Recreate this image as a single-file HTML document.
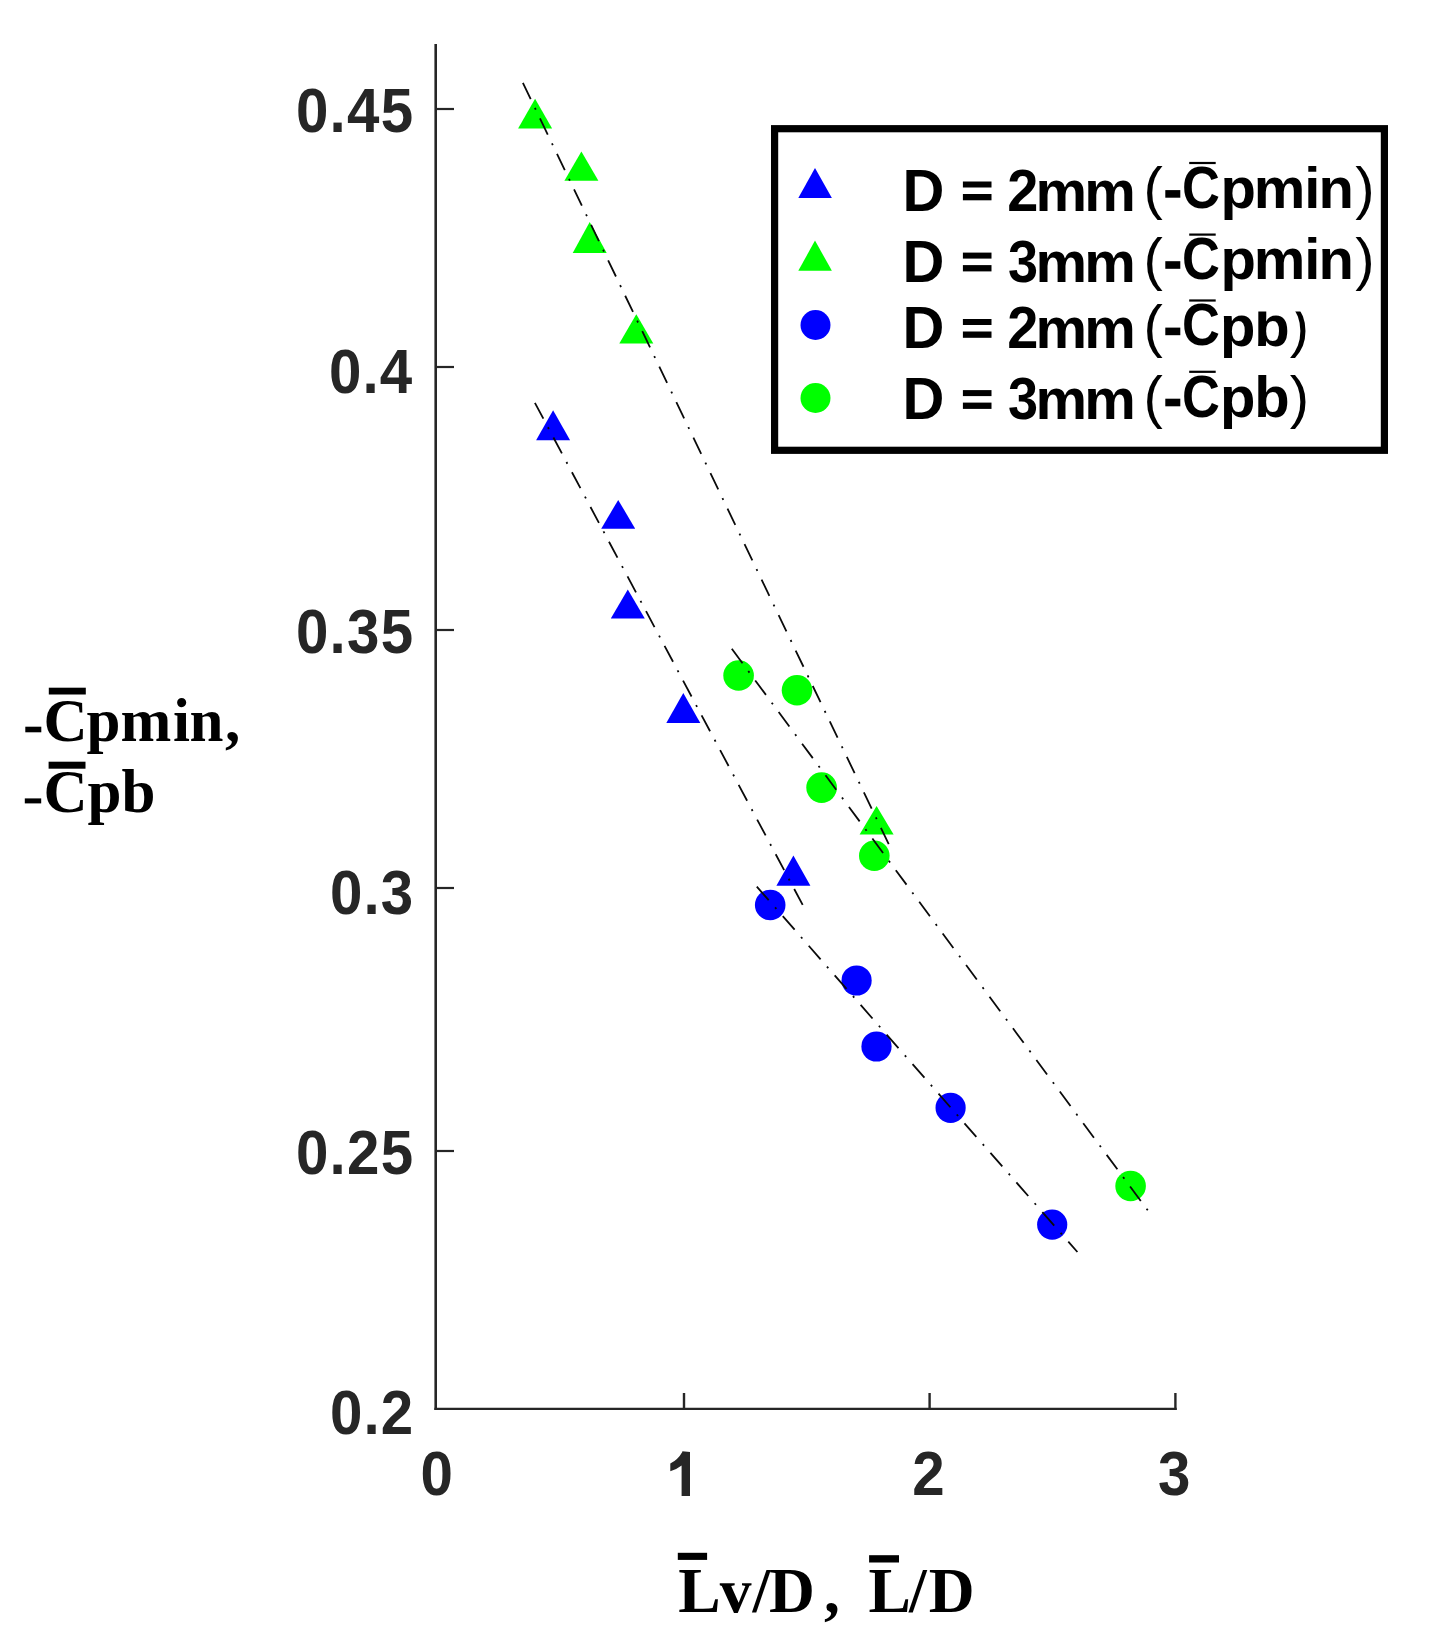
<!DOCTYPE html>
<html><head><meta charset="utf-8">
<style>
html,body{margin:0;padding:0;background:#fff;width:1430px;height:1640px;overflow:hidden}
svg{display:block}
.t{font-family:"Liberation Sans",sans-serif;font-weight:bold}
.s{font-family:"Liberation Serif",serif;font-weight:bold}
</style></head>
<body>
<svg width="1430" height="1640" viewBox="0 0 1430 1640">
<rect width="1430" height="1640" fill="#fff"/>
<!-- axes -->
<g stroke="#262626" fill="none">
<line x1="435.7" y1="44" x2="435.7" y2="1410" stroke-width="2.6"/>
<line x1="434.4" y1="1408.9" x2="1176.7" y2="1408.9" stroke-width="2.3"/>
<g stroke-width="2.2">
<line x1="436" y1="109" x2="454" y2="109"/>
<line x1="436" y1="367" x2="454" y2="367"/>
<line x1="436" y1="630" x2="454" y2="630"/>
<line x1="436" y1="888" x2="454" y2="888"/>
<line x1="436" y1="1151" x2="454" y2="1151"/>
</g>
<g stroke-width="2.4">
<line x1="684" y1="1393" x2="684" y2="1409"/>
<line x1="929.6" y1="1393" x2="929.6" y2="1409"/>
<line x1="1175.4" y1="1393" x2="1175.4" y2="1410"/>
</g>
</g>
<!-- y tick labels -->
<g class="t" fill="#262626" font-size="61">
<text transform="translate(312.19,131.70) scale(0.955,1.03)" x="-16.92" y="0">0</text>
<text transform="translate(337.65,131.70) scale(0.955,1.03)" x="-8.44" y="0">.</text>
<text transform="translate(363.41,131.70) scale(0.955,1.03)" x="-17.26" y="0">4</text>
<text transform="translate(397.13,131.70) scale(0.955,1.03)" x="-17.05" y="0">5</text>
<text transform="translate(345.12,392.50) scale(0.955,1.03)" x="-16.92" y="0">0</text>
<text transform="translate(370.57,392.50) scale(0.955,1.03)" x="-8.44" y="0">.</text>
<text transform="translate(396.34,392.50) scale(0.955,1.03)" x="-17.26" y="0">4</text>
<text transform="translate(312.19,652.50) scale(0.955,1.03)" x="-16.92" y="0">0</text>
<text transform="translate(337.65,652.50) scale(0.955,1.03)" x="-8.44" y="0">.</text>
<text transform="translate(362.71,652.50) scale(0.955,1.03)" x="-16.56" y="0">3</text>
<text transform="translate(397.13,652.50) scale(0.955,1.03)" x="-17.05" y="0">5</text>
<text transform="translate(346.12,913.50) scale(0.955,1.03)" x="-16.92" y="0">0</text>
<text transform="translate(371.57,913.50) scale(0.955,1.03)" x="-8.44" y="0">.</text>
<text transform="translate(396.64,913.50) scale(0.955,1.03)" x="-16.56" y="0">3</text>
<text transform="translate(312.19,1173.50) scale(0.955,1.03)" x="-16.92" y="0">0</text>
<text transform="translate(337.65,1173.50) scale(0.955,1.03)" x="-8.44" y="0">.</text>
<text transform="translate(362.95,1173.50) scale(0.955,1.03)" x="-16.80" y="0">2</text>
<text transform="translate(397.13,1173.50) scale(0.955,1.03)" x="-17.05" y="0">5</text>
<text transform="translate(346.12,1434.00) scale(0.955,1.03)" x="-16.92" y="0">0</text>
<text transform="translate(371.57,1434.00) scale(0.955,1.03)" x="-8.44" y="0">.</text>
<text transform="translate(396.87,1434.00) scale(0.955,1.03)" x="-16.80" y="0">2</text>
</g>
<!-- x tick labels -->
<g class="t" fill="#262626" font-size="61">
<text transform="translate(436.56,1495.30) scale(0.955,1.03)" x="-16.92" y="0">0</text>
<text transform="translate(928.34,1495.30) scale(0.955,1.03)" x="-16.80" y="0">2</text>
<text transform="translate(1173.90,1495.30) scale(0.955,1.03)" x="-16.56" y="0">3</text>
</g>
<path fill="#262626" d="M682.3,1451.2 L690,1452 L690,1496 L681.6,1496 L681.6,1465.5 Q676.5,1469.5 670.3,1471.3 L670.3,1463.5 Q677.8,1460 682.3,1452 Z"/>
<!-- markers -->
<g fill="#00ff00">
<polygon points="535.1,98.8 552.1,128.4 518.1,128.4"/>
<polygon points="581.4,151.5 598.4,180.8 564.4,180.8"/>
<polygon points="589.7,221.9 606.7,253 572.7,253"/>
<polygon points="636.3,314.3 653.3,343.6 619.3,343.6"/>
<polygon points="876.6,806.1 893.6,834.5 859.6,834.5"/>
<circle cx="738.6" cy="675.5" r="15.3"/>
<circle cx="797" cy="690.3" r="15.3"/>
<circle cx="821.6" cy="787.6" r="15.3"/>
<circle cx="874.3" cy="855.8" r="15.3"/>
<circle cx="1130.6" cy="1186" r="15.3"/>
</g>
<g fill="#0000ff">
<polygon points="553.1,410.3 570.1,440.2 536.1,440.2"/>
<polygon points="618.2,499.9 635.2,528.7 601.2,528.7"/>
<polygon points="627.8,589.6 644.8,618.4 610.8,618.4"/>
<polygon points="683.3,693.1 700.3,723 666.3,723"/>
<polygon points="793.4,855.5 810.4,885.7 776.4,885.7"/>
<circle cx="770.2" cy="905" r="15.3"/>
<circle cx="856.6" cy="980.5" r="15.1"/>
<circle cx="876.5" cy="1046.5" r="15.1"/>
<circle cx="950.6" cy="1107.8" r="15.1"/>
<circle cx="1052.2" cy="1224.6" r="15.1"/>
</g>
<!-- fit lines -->
<g stroke="#0a0a0a" stroke-width="1.8" fill="none" stroke-dasharray="18 9.68 2 9.68">
<line x1="522.9" y1="82.9" x2="892.5" y2="852"/>
<line x1="534.9" y1="402.8" x2="807" y2="913"/>
<line x1="731.8" y1="648.8" x2="1149" y2="1212"/>
<line x1="756.8" y1="886.6" x2="1077.4" y2="1252"/>
</g>
<!-- legend -->
<rect x="774.6" y="128.7" width="609.8" height="321.6" fill="#fff" stroke="#000" stroke-width="7.2"/>
<polygon points="815,167.9 831.9,198.1 798.3,198.1" fill="#0000ff"/>
<polygon points="815,240.6 831.9,270.8 798.3,270.8" fill="#00ff00"/>
<circle cx="815.5" cy="325" r="15" fill="#0000ff"/>
<circle cx="815.5" cy="398" r="15" fill="#00ff00"/>
<g class="t" fill="#000" font-size="58">
<text transform="translate(902.5,210.7) scale(1,1.035)">D</text>
<rect x="962.9" y="181.5" width="28.6" height="6"/><rect x="962.9" y="194.0" width="28.6" height="6.3"/>
<text transform="translate(1007.2,210.7) scale(0.964,1.03)">2</text>
<text x="1035.5 1084.2" y="210.7">mm</text>
<text x="1143.5" y="208.2" font-weight="normal">(</text>
<rect x="1165.3" y="190.1" width="15" height="7.6"/>
<text transform="translate(1181.9,207.9) scale(0.905,1.01)">C</text>
<text x="1220.6 1253.8 1304.25 1318.5" y="208.2">pmin</text><text x="1355.2" y="208.2" font-weight="normal">)</text>
<rect x="1189.2" y="161.9" width="26.5" height="2.2"/>
<text transform="translate(902.5,281.8) scale(1,1.035)">D</text>
<rect x="962.9" y="252.6" width="28.6" height="6"/><rect x="962.9" y="265.1" width="28.6" height="6.3"/>
<text transform="translate(1008.1,281.8) scale(0.933,1.03)">3</text>
<text x="1035.5 1084.2" y="281.8">mm</text>
<text x="1143.5" y="279.3" font-weight="normal">(</text>
<rect x="1165.3" y="261.2" width="15" height="7.6"/>
<text transform="translate(1181.9,279.0) scale(0.905,1.01)">C</text>
<text x="1220.6 1253.8 1304.25 1318.5" y="279.3">pmin</text><text x="1355.2" y="279.3" font-weight="normal">)</text>
<rect x="1189.2" y="233.5" width="26.5" height="2.2"/>
<text transform="translate(902.5,348.2) scale(1,1.035)">D</text>
<rect x="962.9" y="319.0" width="28.6" height="6"/><rect x="962.9" y="331.5" width="28.6" height="6.3"/>
<text transform="translate(1007.2,348.2) scale(0.964,1.03)">2</text>
<text x="1035.5 1084.2" y="348.2">mm</text>
<text x="1143.5" y="345.7" font-weight="normal">(</text>
<rect x="1165.3" y="327.6" width="15" height="7.6"/>
<text transform="translate(1181.9,345.4) scale(0.905,1.01)">C</text>
<text x="1219.9 1254.2" y="345.7">pb</text><text x="1289.8" y="345.7" font-weight="normal">)</text>
<rect x="1189.2" y="299.4" width="26.5" height="2.2"/>
<text transform="translate(902.5,419.3) scale(1,1.035)">D</text>
<rect x="962.9" y="390.1" width="28.6" height="6"/><rect x="962.9" y="402.6" width="28.6" height="6.3"/>
<text transform="translate(1008.1,419.3) scale(0.933,1.03)">3</text>
<text x="1035.5 1084.2" y="419.3">mm</text>
<text x="1143.5" y="416.8" font-weight="normal">(</text>
<rect x="1165.3" y="398.7" width="15" height="7.6"/>
<text transform="translate(1181.9,416.5) scale(0.905,1.01)">C</text>
<text x="1219.9 1254.2" y="416.8">pb</text><text x="1289.8" y="416.8" font-weight="normal">)</text>
<rect x="1189.2" y="370.7" width="26.5" height="2.2"/>
</g>
<rect x="1252" y="296" width="56" height="15.5" fill="#fff"/>
<!-- axis labels -->
<g class="s" fill="#000">
<text font-size="63.5" x="678.3 719.7 752.4 769 824" y="1611.5">Lv/D,</text>
<text font-size="63.5" x="868.5 909 928.7" y="1611.5">L/D</text>
<text font-size="61" x="43.4 86.6 120.4 172.9 189.5 224.9" y="741.3">Cpmin,</text>
<text font-size="61" x="43.4 87.5 121.6" y="812">Cpb</text>
</g>
<g fill="#000">
<rect x="677.8" y="1552.8" width="29.3" height="7.1"/>
<rect x="869.1" y="1555.2" width="29.9" height="7.3"/>
<rect x="48.8" y="687.7" width="37" height="6.8"/>
<rect x="25.3" y="726.7" width="16" height="5.6"/>
<rect x="24.8" y="798.4" width="16.4" height="5"/>
<rect x="48.6" y="761.7" width="36.9" height="7"/>
</g>
</svg>
</body></html>
